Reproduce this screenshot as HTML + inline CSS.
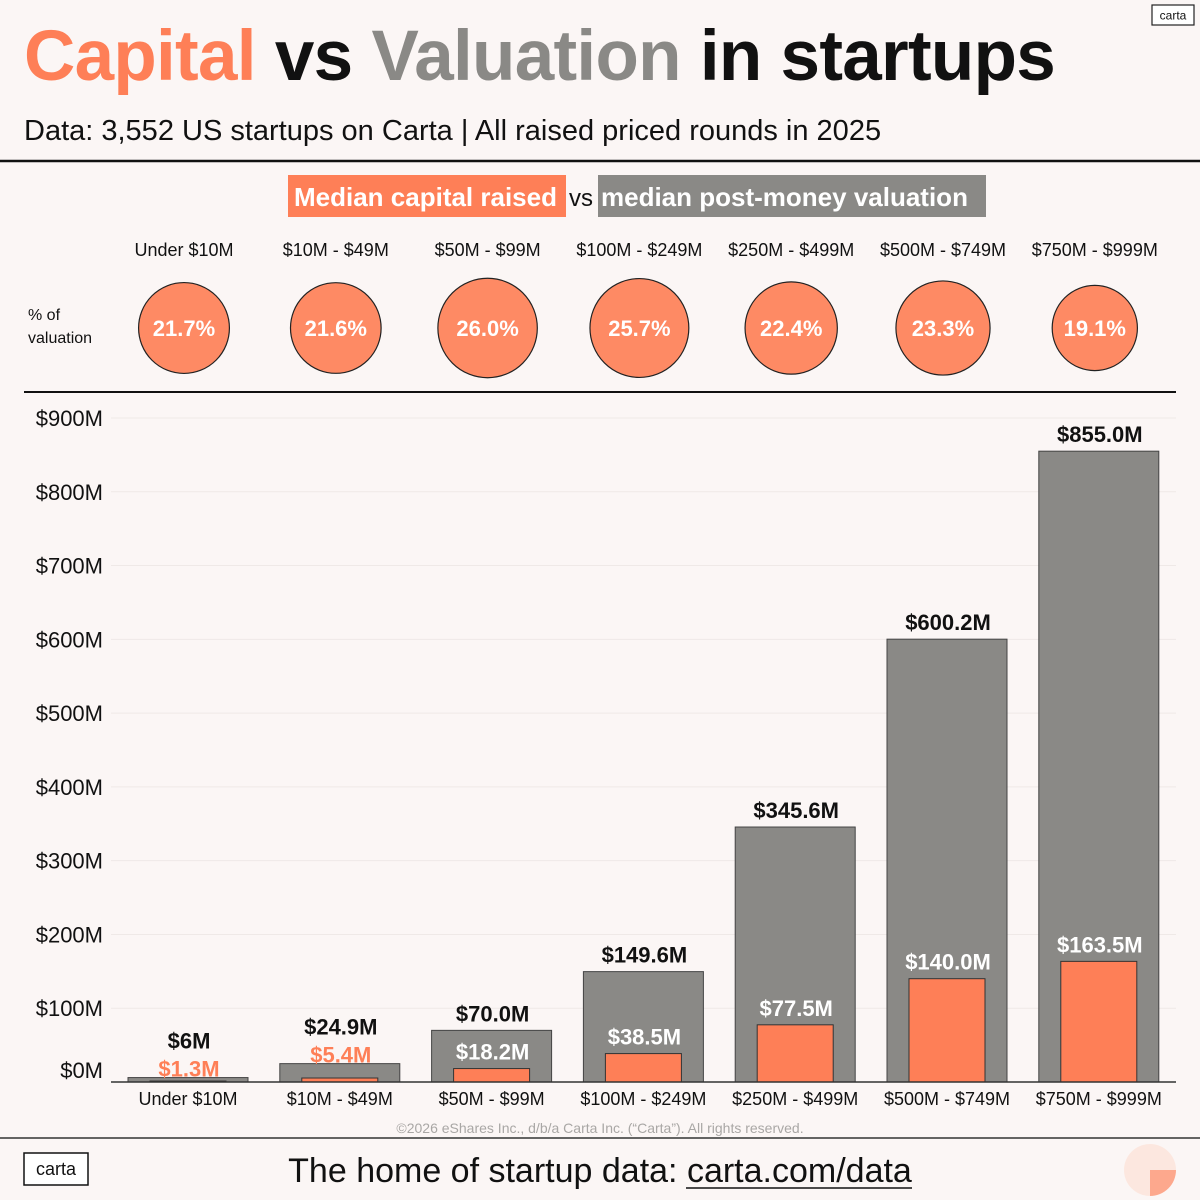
<!DOCTYPE html>
<html><head><meta charset="utf-8">
<style>
html,body{margin:0;padding:0;background:#fbf6f5;}
body{width:1200px;height:1200px;position:relative;overflow:hidden;font-family:"Liberation Sans",sans-serif;}
svg{position:absolute;left:0;top:0;}
</style></head>
<body>
<svg id="chart" width="1200" height="1200" viewBox="0 0 1200 1200">
  <rect x="0" y="0" width="1200" height="1200" fill="#fbf6f5"/>
  <text x="24" y="80" font-size="71" font-weight="bold" letter-spacing="-0.7"><tspan fill="#fe7f57">Capital</tspan><tspan fill="#111"> vs </tspan><tspan fill="#8a8986">Valuation</tspan><tspan fill="#111"> in startups</tspan></text>
  <rect x="1152" y="5" width="42" height="20" fill="#fff" stroke="#222" stroke-width="1.2"/>
  <text x="1173" y="19.5" font-size="12" text-anchor="middle" fill="#111">carta</text>
  <text x="24" y="140" font-size="29" fill="#111">Data: 3,552 US startups on Carta | All raised priced rounds in 2025</text>
  <line x1="0" y1="161" x2="1200" y2="161" stroke="#111" stroke-width="2.5"/>
  <g>
    <rect x="288" y="175" width="278" height="42" fill="#fe7f57"/>
    <text x="294" y="206" font-size="26" font-weight="bold" fill="#fff">Median capital raised</text>
    <text x="569" y="206" font-size="24" fill="#111">vs</text>
    <rect x="598" y="175" width="388" height="42" fill="#8a8986"/>
    <text x="601" y="206" font-size="26" font-weight="bold" fill="#fff">median post-money valuation</text>
  </g>
  <text x="28" y="320" font-size="16" fill="#111">% of</text>
  <text x="28" y="343" font-size="16" fill="#111">valuation</text>
  <g id="topg"></g>
  <line x1="24" y1="392" x2="1176" y2="392" stroke="#111" stroke-width="2"/>
  <g id="grid"></g>
  <g id="bars"></g>
  <line x1="111" y1="1082" x2="1176" y2="1082" stroke="#333" stroke-width="1.5"/>
  <text x="600" y="1133" font-size="14" fill="#a9a7a5" text-anchor="middle">©2026 eShares Inc., d/b/a Carta Inc. (“Carta”). All rights reserved.</text>
  <line x1="0" y1="1138" x2="1200" y2="1138" stroke="#333" stroke-width="1.5"/>
  <rect x="24" y="1153" width="64" height="32" fill="#fff" stroke="#111" stroke-width="1.5"/>
  <text x="56" y="1175" font-size="18" fill="#111" text-anchor="middle">carta</text>
  <text x="600" y="1182" font-size="34" fill="#111" text-anchor="middle">The home of startup data: <tspan>carta.com/data</tspan></text>
  <line x1="686" y1="1188" x2="912" y2="1188" stroke="#111" stroke-width="1.5"/>
  <circle cx="1150" cy="1170" r="26" fill="#fde4da" opacity="0.8"/>
  <path d="M1150 1170 L1176 1170 A26 26 0 0 1 1150 1196 Z" fill="#fe7f57" opacity="0.6"/>
</svg>
<script>
const categories = ["Under $10M","$10M - $49M","$50M - $99M","$100M - $249M","$250M - $499M","$500M - $749M","$750M - $999M"];
const valuation = [6, 24.9, 70.0, 149.6, 345.6, 600.2, 855.0];
const capital = [1.3, 5.4, 18.2, 38.5, 77.5, 140.0, 163.5];
const valuationLabels = ["$6M","$24.9M","$70.0M","$149.6M","$345.6M","$600.2M","$855.0M"];
const capitalLabels = ["$1.3M","$5.4M","$18.2M","$38.5M","$77.5M","$140.0M","$163.5M"];
const pctValues = [21.7, 21.6, 26.0, 25.7, 22.4, 23.3, 19.1];
const yTicks = [0,100,200,300,400,500,600,700,800,900];

const NS = "http://www.w3.org/2000/svg";
const baseY = 1082, pxPer = 0.7378;
function y(v){ return baseY - v*pxPer; }
function xc(i){ return 188 + i*151.8; }
function mk(tag, attrs, parent, txt){
  const e = document.createElementNS(NS, tag);
  for (const k in attrs) e.setAttribute(k, attrs[k]);
  if (txt !== undefined) e.textContent = txt;
  parent.appendChild(e); return e;
}
const grid = document.getElementById('grid');
yTicks.forEach((t) => {
  const ly = y(t);
  if (t > 0) {
    const gl = mk('line', {x1:111, x2:1176, y1:ly, y2:ly, stroke:'#efe9e7', 'stroke-width':1}, grid);
    
    
  }
  const ty = t === 0 ? ly - 4 : ly + 8;
  const lab = mk('text', {x:103, y:ty, 'font-size':22, fill:'#111', 'text-anchor':'end'}, grid, '$' + t + 'M');
  
  
});
const topGroup = document.getElementById('topg');
const bars = document.getElementById('bars');
categories.forEach((c, i) => {
  const cx = xc(i);
  const h = mk('text', {x:cx - 4, y:256, 'font-size':18, fill:'#111', 'text-anchor':'middle'}, topGroup, c);
  
  
  const r = 9.75*Math.sqrt(pctValues[i]);
  const circ = mk('circle', {cx:cx - 4, cy:328, r:r, fill:'#fe8a64', stroke:'#222', 'stroke-width':1.2}, topGroup);
  
  
  const pt = mk('text', {x:cx - 4, y:336, 'font-size':22, 'font-weight':'bold', fill:'#fff', 'text-anchor':'middle'}, topGroup, pctValues[i].toFixed(1) + '%');
  
  

  const vy = y(valuation[i]);
  const vb = mk('rect', {x:cx - 60, y:vy, width:120, height:baseY - vy, fill:'#8a8986', stroke:'#444', 'stroke-width':1}, bars);
  
  
  const cy = y(capital[i]);
  const cb = mk('rect', {x:cx - 38, y:cy, width:76, height:baseY - cy, fill:'#fe7f57', stroke:'#333', 'stroke-width':1}, bars);
  
  

  const small = i < 2;
  const vl = mk('text', {x:cx + 1, y: small ? vy - 29 : vy - 9, 'font-size':22, 'font-weight':'bold', fill:'#111', 'text-anchor':'middle'}, bars, valuationLabels[i]);
  
  
  const inside = cy - 25 > vy + 10;
  const cly = inside ? cy - 9 : Math.max(cy - 6, vy + 30);
  const cl = mk('text', {x:cx + 1, y: small ? vy - 1 : cly, 'font-size':22, 'font-weight':'bold', fill: small ? '#fe7f57' : '#fff', 'text-anchor':'middle'}, bars, capitalLabels[i]);
  
  

  const xl = mk('text', {x:cx, y:1105, 'font-size':18, fill:'#111', 'text-anchor':'middle'}, bars, c);
  
  
});
</script>
</body></html>
